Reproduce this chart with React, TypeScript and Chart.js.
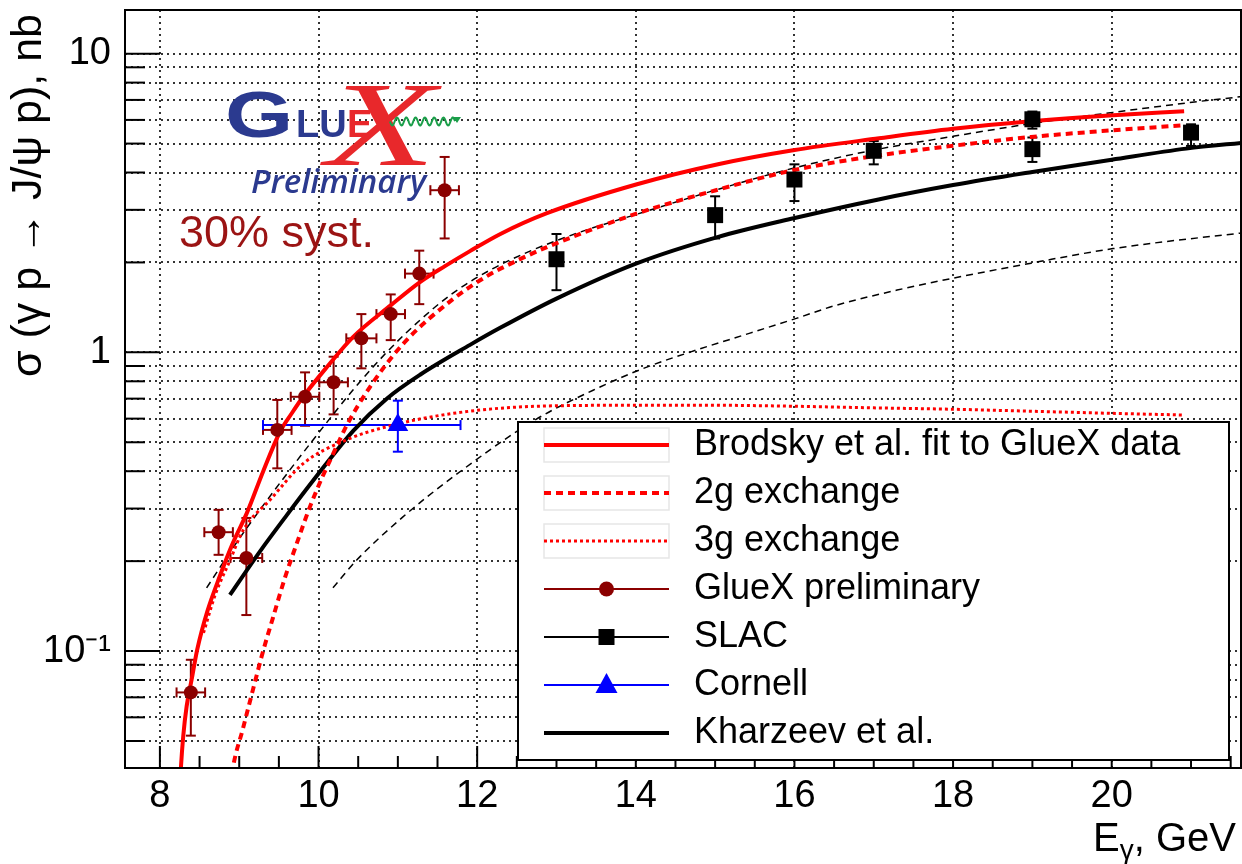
import React, { useEffect, useRef } from "react";
import { Chart, registerables } from "chart.js";

Chart.register(...registerables);

// ---------------- data ----------------
const gluexE = [8.39, 8.74, 9.09, 9.48, 9.83, 10.19, 10.54, 10.91, 11.27, 11.59];
const gluexSigma = [0.0727, 0.25, 0.205, 0.55, 0.71, 0.794, 1.114, 1.343, 1.835, 3.49];
const gluexSigmaHi = [0.0935, 0.297, 0.279, 0.693, 0.857, 0.967, 1.343, 1.563, 2.19, 4.51];
const gluexSigmaLo = [0.0521, 0.21, 0.132, 0.409, 0.568, 0.62, 0.884, 1.099, 1.45, 2.406];
const gluexEErr = [0.18, 0.18, 0.2, 0.18, 0.18, 0.18, 0.19, 0.18, 0.18, 0.18];

const slacE = [13, 15, 16, 17, 19, 19, 21];
const slacSigma = [2.05, 2.88, 3.79, 4.73, 6.03, 4.79, 5.44];
const slacSigmaHi = [2.49, 3.33, 4.26, 5.1, 6.4, 5.24, 5.8];
const slacSigmaLo = [1.615, 2.406, 3.21, 4.26, 5.61, 4.34, 4.91];

const cornellE = [11.0];
const cornellSigma = [0.571];
const cornellSigmaHi = [0.689];
const cornellSigmaLo = [0.465];
const cornellELo = [9.3];
const cornellEHi = [11.79];

const brodskyE = [8.25, 8.265, 8.294, 8.337, 8.4, 8.47, 8.596, 8.757, 8.921, 9.097, 9.299, 9.513, 9.665, 9.803, 10.106, 10.434, 10.913, 11.279, 11.594, 11.909, 12.287, 12.88, 14.015, 15.037, 15.983, 17.067, 18.0, 18.983, 20.017, 20.913];
const brodskySigma = [0.034, 0.0407, 0.0518, 0.0653, 0.0802, 0.101, 0.1353, 0.1786, 0.2302, 0.2901, 0.3978, 0.5413, 0.6266, 0.7087, 0.893, 1.125, 1.439, 1.719, 1.944, 2.182, 2.487, 2.924, 3.655, 4.265, 4.75, 5.209, 5.604, 5.936, 6.217, 6.412];

const twoGE = [8.889, 8.921, 9.047, 9.173, 9.299, 9.425, 9.576, 9.728, 9.891, 10.043, 10.207, 10.358, 10.648, 11.064, 11.695, 12.124, 12.54, 12.88, 14.015, 14.999, 15.983, 16.991, 18.0, 18.983, 20.017, 20.913];
const twoGSigma = [0.0352, 0.0407, 0.055, 0.0742, 0.0995, 0.1292, 0.1758, 0.2302, 0.3039, 0.3798, 0.4712, 0.5713, 0.7654, 1.066, 1.507, 1.8, 2.051, 2.25, 2.917, 3.483, 4.07, 4.535, 4.916, 5.261, 5.54, 5.757];

const threeGE = [8.55, 8.7, 8.88, 9.05, 9.39, 9.81, 10.35, 10.86, 11.7, 12.75, 14.0, 15.0, 16.0, 17.0, 18.0, 19.0, 20.0, 20.91];
const threeGSigma = [0.115, 0.155, 0.2, 0.254, 0.321, 0.425, 0.509, 0.564, 0.625, 0.66, 0.665, 0.665, 0.66, 0.652, 0.645, 0.635, 0.625, 0.617];

const kharzeevE = [8.883, 9.26, 9.6, 9.93, 10.44, 10.86, 11.28, 11.91, 12.29, 13.0, 14.01, 15.03, 15.99, 17.06, 18.0, 19.0, 20.0, 20.94, 21.7];
const kharzeevSigma = [0.1542, 0.2153, 0.2851, 0.3715, 0.547, 0.6998, 0.8414, 1.0593, 1.2078, 1.5136, 1.9861, 2.4322, 2.8119, 3.2509, 3.6308, 4.0179, 4.4157, 4.8084, 5.0466];

const upperDashE = [8.589, 8.921, 9.261, 9.639, 9.98, 10.434, 10.862, 11.279, 11.695, 12.161, 12.666, 13.296, 14.015, 14.999, 15.983, 16.991, 18.0, 19.009, 20.017, 21.114, 21.619, 21.745];
const upperDashSigma = [0.1628, 0.2216, 0.297, 0.4041, 0.529, 0.748, 1.002, 1.282, 1.579, 1.885, 2.182, 2.526, 2.901, 3.49, 4.135, 4.75, 5.286, 5.844, 6.359, 6.925, 7.169, 7.226];

const lowerDashE = [10.182, 10.484, 11.064, 11.695, 12.729, 13.549, 14.091, 14.684, 15.44, 16.033, 16.488, 17.294, 18.0, 18.984, 20.017, 21.619, 21.745];
const lowerDashSigma = [0.1628, 0.202, 0.2812, 0.3827, 0.5938, 0.7654, 0.8827, 1.002, 1.16, 1.302, 1.428, 1.616, 1.772, 1.989, 2.225, 2.506, 2.526];

const xTickValues = [8, 10, 12, 14, 16, 18, 20];
const yTickValues = [0.05, 0.06, 0.07, 0.08, 0.09, 0.1, 0.2, 0.3, 0.4, 0.5, 0.6, 0.7, 0.8, 0.9, 1, 2, 3, 4, 5, 6, 7, 8, 9, 10];
const yMajorValues = [0.1, 1, 10];
const yMajorLabels = ["10\u207B\u00B9", "1", "10"];

const legendLabels = [
  "Brodsky et al. fit to GlueX data",
  "2g exchange",
  "3g exchange",
  "GlueX preliminary",
  "SLAC",
  "Cornell",
  "Kharzeev et al.",
];

const yTitle = "\u03C3 (\u03B3 p \u2192 J/\u03C8 p), nb";

// ---------------- helpers ----------------
const pts = (xs: number[], ys: number[]) => xs.map((x, i) => ({ x, y: ys[i] }));
const FONT = '"Liberation Sans", Arial, sans-serif';
const GLUEX_RED = "#8b0000";

function seg(ctx: CanvasRenderingContext2D, x1: number, y1: number, x2: number, y2: number) {
  ctx.beginPath();
  ctx.moveTo(x1, y1);
  ctx.lineTo(x2, y2);
  ctx.stroke();
}

function vErr(ctx: CanvasRenderingContext2D, x: number, y1: number, y2: number, cap: number) {
  seg(ctx, x, y1, x, y2);
  seg(ctx, x - cap, y1, x + cap, y1);
  seg(ctx, x - cap, y2, x + cap, y2);
}
function hErr(ctx: CanvasRenderingContext2D, y: number, x1: number, x2: number, cap: number) {
  seg(ctx, x1, y, x2, y);
  seg(ctx, x1, y - cap, x1, y + cap);
  seg(ctx, x2, y - cap, x2, y + cap);
}

const decorPlugin = {
  id: "decor",
  beforeDatasetsDraw(chart: any) {
    const ctx: CanvasRenderingContext2D = chart.ctx;
    const xs = chart.scales.x;
    const ys = chart.scales.y;
    const { bottom, left } = chart.chartArea;
    ctx.save();
    ctx.setLineDash([]);
    ctx.strokeStyle = "#000";
    ctx.lineWidth = 2;
    for (let v = 8; v <= 21.5; v += 0.5) {
      const px = xs.getPixelForValue(v);
      const len = v % 2 === 0 ? 22 : 12;
      seg(ctx, px, bottom, px, bottom - len);
    }
    for (const v of yTickValues) {
      const py = ys.getPixelForValue(v);
      const len = yMajorValues.includes(v) ? 35 : 20;
      seg(ctx, left, py, left + len, py);
    }
    ctx.lineWidth = 2;
    ctx.strokeStyle = GLUEX_RED;
    gluexE.forEach((e, i) => {
      const px = xs.getPixelForValue(e);
      const py = ys.getPixelForValue(gluexSigma[i]);
      vErr(ctx, px, ys.getPixelForValue(gluexSigmaHi[i]), ys.getPixelForValue(gluexSigmaLo[i]), 5);
      hErr(ctx, py, xs.getPixelForValue(e - gluexEErr[i]), xs.getPixelForValue(e + gluexEErr[i]), 5);
    });
    ctx.strokeStyle = "#000";
    slacE.forEach((e, i) => {
      const px = xs.getPixelForValue(e);
      vErr(ctx, px, ys.getPixelForValue(slacSigmaHi[i]), ys.getPixelForValue(slacSigmaLo[i]), 5);
    });
    ctx.strokeStyle = "#0000ff";
    cornellE.forEach((e, i) => {
      const px = xs.getPixelForValue(e);
      const py = ys.getPixelForValue(cornellSigma[i]);
      vErr(ctx, px, ys.getPixelForValue(cornellSigmaHi[i]), ys.getPixelForValue(cornellSigmaLo[i]), 5);
      hErr(ctx, py, xs.getPixelForValue(cornellELo[i]), xs.getPixelForValue(cornellEHi[i]), 5);
    });
    ctx.restore();
  },
  afterDatasetsDraw(chart: any) {
    const ctx: CanvasRenderingContext2D = chart.ctx;
    const { left, right, top, bottom } = chart.chartArea;
    ctx.save();
    ctx.setLineDash([]);

    // ---- legend ----
    const L = { x0: 518, y0: 422, x1: 1229, y1: 760 };
    ctx.fillStyle = "#fff";
    ctx.fillRect(L.x0, L.y0, L.x1 - L.x0, L.y1 - L.y0);
    ctx.strokeStyle = "#000";
    ctx.lineWidth = 2;
    ctx.strokeRect(L.x0, L.y0, L.x1 - L.x0, L.y1 - L.y0);
    const sx0 = 544, sx1 = 669, sxm = (sx0 + sx1) / 2;
    legendLabels.forEach((lab, i) => {
      const y = 445 + 48 * i;
      ctx.setLineDash([]);
      if (i < 3) {
        ctx.strokeStyle = "#e6e6e6";
        ctx.lineWidth = 1.5;
        ctx.strokeRect(sx0, y - 17, sx1 - sx0, 34);
      }
      if (i === 0) {
        ctx.strokeStyle = "#ff0000"; ctx.lineWidth = 4; seg(ctx, sx0, y, sx1, y);
      } else if (i === 1) {
        ctx.strokeStyle = "#ff0000"; ctx.lineWidth = 4; ctx.setLineDash([7, 5]); seg(ctx, sx0, y, sx1, y);
      } else if (i === 2) {
        ctx.strokeStyle = "#ff0000"; ctx.lineWidth = 3; ctx.setLineDash([3, 3]); seg(ctx, sx0, y, sx1, y);
      } else if (i === 3) {
        ctx.strokeStyle = GLUEX_RED; ctx.lineWidth = 2; seg(ctx, sx0, y, sx1, y);
        ctx.fillStyle = GLUEX_RED; ctx.beginPath(); ctx.arc(sxm, y, 7.5, 0, Math.PI * 2); ctx.fill();
      } else if (i === 4) {
        ctx.strokeStyle = "#000"; ctx.lineWidth = 2; seg(ctx, sx0, y, sx1, y);
        ctx.fillStyle = "#000"; ctx.fillRect(sxm - 8, y - 8, 16, 16);
      } else if (i === 5) {
        ctx.strokeStyle = "#0000ff"; ctx.lineWidth = 2; seg(ctx, sx0, y, sx1, y);
        ctx.fillStyle = "#0000ff"; ctx.beginPath();
        ctx.moveTo(sxm, y - 12); ctx.lineTo(sxm + 11, y + 8); ctx.lineTo(sxm - 11, y + 8); ctx.closePath(); ctx.fill();
      } else {
        ctx.strokeStyle = "#000"; ctx.lineWidth = 4; seg(ctx, sx0, y, sx1, y);
      }
      ctx.setLineDash([]);
      ctx.fillStyle = "#000";
      ctx.font = `36px ${FONT}`;
      ctx.textAlign = "left";
      ctx.textBaseline = "middle";
      ctx.fillText(lab, 694, y);
    });

    // ---- GlueX logo ----
    ctx.textBaseline = "alphabetic";
    ctx.textAlign = "center";
    ctx.fillStyle = "#e8282b";
    ctx.save();
    ctx.translate(381, 165);
    ctx.scale(1.5, 1);
    ctx.font = `italic 120px "Liberation Serif", serif`;
    ctx.fillText("X", 0, 0);
    ctx.restore();

    ctx.textAlign = "left";
    ctx.fillStyle = "#2b3a8f";
    ctx.save();
    ctx.translate(225, 137);
    ctx.scale(1.37, 1);
    ctx.font = `bold 64px ${FONT}`;
    ctx.fillText("G", 0, 0);
    ctx.restore();
    ctx.font = `bold 38px ${FONT}`;
    ctx.fillText("LU", 296, 137);
    ctx.fillStyle = "#e8282b";
    ctx.fillText("E", 347, 137);

    ctx.strokeStyle = "#1a9e49";
    ctx.lineWidth = 2;
    ctx.beginPath();
    for (let x = 390; x <= 455; x += 0.5) {
      const yy = 121.5 + 4 * Math.sin(((x - 390) / 9.3) * Math.PI * 2);
      if (x === 390) ctx.moveTo(x, yy); else ctx.lineTo(x, yy);
    }
    ctx.stroke();
    ctx.fillStyle = "#1a9e49";
    ctx.beginPath();
    ctx.moveTo(461, 117); ctx.lineTo(453, 117); ctx.lineTo(457, 123); ctx.closePath(); ctx.fill();

    ctx.fillStyle = "#2b3a8f";
    ctx.font = `italic 600 33px "Open Sans", ${FONT}`;
    ctx.fillText("Preliminary", 251, 193);

    ctx.fillStyle = "#9b1414";
    ctx.font = `45px ${FONT}`;
    ctx.fillText("30% syst.", 179, 247);

    // ---- frame ----
    ctx.strokeStyle = "#000";
    ctx.lineWidth = 2;
    ctx.strokeRect(left, top, right - left, bottom - top);
    ctx.restore();
  },
  afterDraw(chart: any) {
    const ctx: CanvasRenderingContext2D = chart.ctx;
    ctx.save();
    ctx.fillStyle = "#000";
    ctx.save();
    ctx.translate(41, 14);
    ctx.rotate(-Math.PI / 2);
    ctx.font = `43px ${FONT}`;
    ctx.textAlign = "right";
    ctx.textBaseline = "alphabetic";
    ctx.fillText(yTitle, 0, 0);
    ctx.restore();
    ctx.textBaseline = "alphabetic";
    ctx.textAlign = "left";
    const big = `40px ${FONT}`;
    const small = `28px ${FONT}`;
    ctx.font = big;
    const wE = ctx.measureText("E").width;
    const wRest = ctx.measureText(", GeV").width;
    ctx.font = small;
    const wG = ctx.measureText("\u03B3").width;
    const xEnd = 1236;
    const x0 = xEnd - wE - wG - wRest;
    const base = 851;
    ctx.font = big;
    ctx.fillText("E", x0, base);
    ctx.font = small;
    ctx.fillText("\u03B3", x0 + wE, base + 8);
    ctx.font = big;
    ctx.fillText(", GeV", x0 + wE + wG, base);
    ctx.restore();
  },
};

export default function App() {
  const ref = useRef<HTMLCanvasElement | null>(null);
  useEffect(() => {
    if (!ref.current) return;
    const curve = (label: string, data: any, color: string, width: number, dash: number[]) => ({
      label,
      data,
      showLine: true,
      borderColor: color,
      backgroundColor: color,
      borderWidth: width,
      borderDash: dash,
      pointRadius: 0,
      cubicInterpolationMode: "monotone",
    });
    const chart = new Chart(ref.current, {
      type: "scatter",
      data: {
        datasets: [
          {
            label: "GlueX preliminary",
            data: pts(gluexE, gluexSigma),
            pointStyle: "circle",
            pointRadius: 7,
            backgroundColor: GLUEX_RED,
            borderColor: GLUEX_RED,
            borderWidth: 0,
          },
          {
            label: "SLAC",
            data: pts(slacE, slacSigma),
            pointStyle: "rect",
            pointRadius: 11.3,
            backgroundColor: "#000",
            borderColor: "#000",
            borderWidth: 0,
          },
          {
            label: "Cornell",
            data: pts(cornellE, cornellSigma),
            pointStyle: "triangle",
            pointRadius: 12,
            backgroundColor: "#0000ff",
            borderColor: "#0000ff",
            borderWidth: 0,
          },
          curve("Brodsky et al. fit to GlueX data", pts(brodskyE, brodskySigma), "#ff0000", 4, []),
          curve("2g exchange", pts(twoGE, twoGSigma), "#ff0000", 4, [7, 5]),
          curve("3g exchange", pts(threeGE, threeGSigma), "#ff0000", 3, [3, 3]),
          curve("Kharzeev et al.", pts(kharzeevE, kharzeevSigma), "#000000", 4, []),
          curve("upper", pts(upperDashE, upperDashSigma), "#000000", 1.5, [7, 5]),
          curve("lower", pts(lowerDashE, lowerDashSigma), "#000000", 1.5, [7, 5]),
        ] as any,
      },
      options: {
        animation: false,
        responsive: false,
        maintainAspectRatio: false,
        events: [],
        layout: { autoPadding: false, padding: { left: 0, top: 10, right: 1, bottom: 0 } },
        plugins: { legend: { display: false }, tooltip: { enabled: false } },
        scales: {
          x: {
            type: "linear",
            min: 7.56,
            max: 21.63,
            afterBuildTicks: (s: any) => {
              s.ticks = xTickValues.map((v) => ({ value: v }));
            },
            afterFit: (s: any) => {
              s.height = 96;
              s.paddingLeft = 0;
              s.paddingRight = 0;
            },
            ticks: {
              autoSkip: false,
              maxRotation: 0,
              padding: 6,
              color: "#000",
              font: { family: FONT, size: 38 },
              callback: (v: any) => String(v),
            },
            grid: { drawTicks: false, color: "#333", lineWidth: 2 },
            border: { display: false, dash: [2, 4] },
          },
          y: {
            type: "logarithmic",
            min: 0.0406,
            max: 14,
            afterBuildTicks: (s: any) => {
              s.ticks = yTickValues.map((v) => ({ value: v }));
            },
            afterFit: (s: any) => {
              s.width = 125;
              s.paddingTop = 0;
              s.paddingBottom = 0;
            },
            ticks: {
              autoSkip: false,
              padding: 14,
              color: "#000",
              font: { family: FONT, size: 38 },
              callback: (v: any) => {
                const k = yMajorValues.findIndex((m) => Math.abs(m - Number(v)) < 1e-9);
                return k >= 0 ? yMajorLabels[k] : "";
              },
            },
            grid: { drawTicks: false, color: "#333", lineWidth: 2 },
            border: { display: false, dash: [2, 4] },
          },
        },
      },
      plugins: [decorPlugin as any],
    });
    return () => chart.destroy();
  }, []);
  return (
    <div style={{ position: "fixed", left: 0, top: 0, width: 1242, height: 864, background: "#fff" }}>
      <canvas ref={ref} width={1242} height={864} style={{ display: "block", width: 1242, height: 864 }} />
    </div>
  );
}
